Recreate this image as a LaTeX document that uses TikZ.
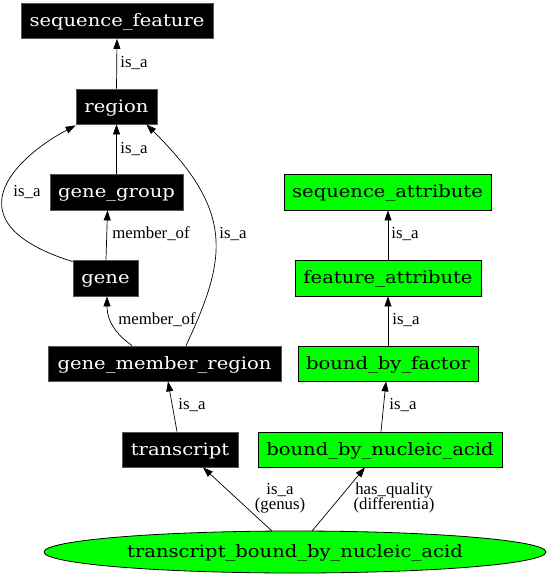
\documentclass[tikz,border=0pt]{standalone}
\usepackage{fontspec}
\setmainfont{Liberation Serif}
\newfontfamily\nodefont[FakeStretch=1.15]{DejaVu Serif}
\usetikzlibrary{arrows.meta,shapes.geometric,calc}
\definecolor{gvgreen}{HTML}{00FF00}
\definecolor{gvgray}{HTML}{555555}
\tikzset{
  base/.style={inner sep=0pt,font=\nodefont\fontsize{17}{20}\selectfont,
    text height=14pt,text depth=3pt,line width=0.8pt},
  blk/.style={base,rectangle,fill=black,draw=gvgray,text=white,minimum height=35pt},
  grn/.style={base,rectangle,fill=gvgreen,draw=black,text=black,minimum height=35pt},
  ell/.style={base,ellipse,fill=gvgreen,draw=black},
  edge/.style={draw=black,line width=0.7pt,-{Triangle[length=10pt,width=7pt]}},
  lbl/.style={font=\fontsize{16.8}{15.5}\selectfont,inner sep=0pt,align=center},
}
\begin{document}
\begin{tikzpicture}[x=1pt,y=-1pt]
\useasboundingbox (0,0) rectangle (549,576);
% nodes
\node[blk,minimum width=192pt] (sf) at (117,21) {sequence\_feature};
\node[blk,minimum width=81pt] (region) at (116.5,106.5) {region};
\node[blk,minimum width=133pt,minimum height=36pt] (gg) at (116.5,192) {gene\_group};
\node[blk,minimum width=65pt,minimum height=36pt] (gene) at (105.5,278) {gene};
\node[blk,minimum width=233pt] (gmr) at (164.5,363.5) {gene\_member\_region};
\node[blk,minimum width=116pt] (tr) at (180,449.5) {transcript};
\node[grn,minimum width=244pt] (bnaa) at (380,449.5) {bound\_by\_nucleic\_acid};
\node[grn,minimum width=180pt] (bbf) at (388,363.5) {bound\_by\_factor};
\node[grn,minimum width=186pt,minimum height=36pt] (fa) at (388,278) {feature\_attribute};
\node[grn,minimum width=207pt,minimum height=36pt] (sa) at (387.5,192) {sequence\_attribute};
\node[ell,minimum width=502pt,minimum height=42pt] (tbna) at (295,552) {transcript\_bound\_by\_nucleic\_acid};
% edges
\draw[edge] (region.north) -- (sf.south);
\draw[edge] (gg.north) -- (region.south);
\draw[edge] ([xshift=0.5pt]gene.north) -- ([xshift=-9pt]gg.south);
\draw[edge] ([yshift=-2pt]gene.north west) .. controls (-53,222) and (16,157) .. ([yshift=-1pt]region.south west);
\draw[edge] ([xshift=-32.5pt]gmr.north) .. controls (110,330) and (107,315) .. ([xshift=1.5pt]gene.south);
\draw[edge] ([xshift=21.5pt]gmr.north) .. controls (227,258) and (235,212) .. ([xshift=-11pt]region.south east);
\draw[edge] ([xshift=-3pt]tr.north) -- ([xshift=3.5pt]gmr.south);
\draw[edge] ([xshift=1pt]bnaa.north) -- ([xshift=-2pt]bbf.south);
\draw[edge] (bbf.north) -- (fa.south);
\draw[edge] (fa.north) -- ([xshift=0.5pt]sa.south);
\draw[edge] ([xshift=-23pt,yshift=-0.5pt]tbna.north) -- ([xshift=23pt]tr.south);
\draw[edge] ([xshift=17pt,yshift=-0.5pt]tbna.north) -- ([xshift=-15pt]bnaa.south);
% labels
\node[lbl] (l1) at (134,63) {is\_a};
\node[lbl] (l2) at (134,149) {is\_a};
\node[lbl] (l3) at (27,192) {is\_a};
\node[lbl] (l4) at (151,234) {member\_of};
\node[lbl] (l5) at (233,234) {is\_a};
\node[lbl] (l6) at (157,320) {member\_of};
\node[lbl] (l7) at (192,405) {is\_a};
\node[lbl] (l8) at (405,234) {is\_a};
\node[lbl] (l9) at (406,320) {is\_a};
\node[lbl] (l10) at (403,405) {is\_a};
\node[lbl] (l11) at (280,498) {is\_a\\(genus)};
\node[lbl] (l12) at (394,498) {has\_quality\\(differentia)};
\end{tikzpicture}
\end{document}
